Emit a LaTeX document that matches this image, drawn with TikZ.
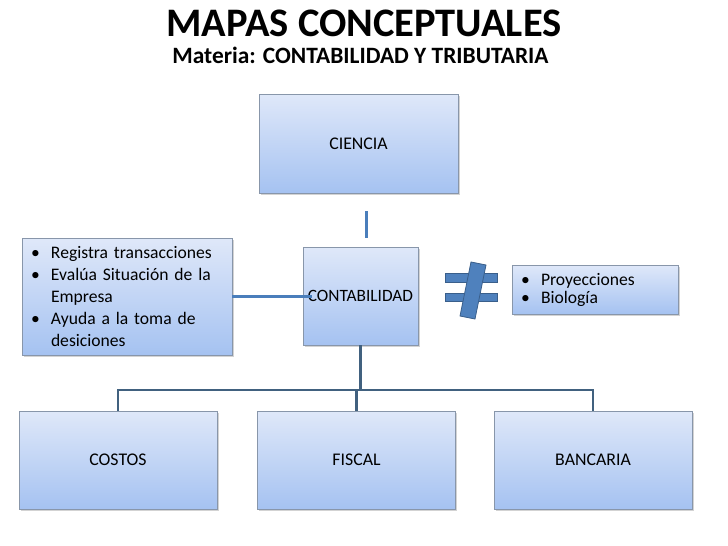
\documentclass[tikz,border=0pt]{standalone}
\usepackage{fontspec}
\setmainfont{Carlito}
\usetikzlibrary{shadows}
\definecolor{boxtop}{HTML}{DFE8F9}
\definecolor{boxbot}{HTML}{A5C2F1}
\definecolor{boxline}{HTML}{8896AA}
\definecolor{linkblue}{HTML}{4A7EBB}
\definecolor{treeline}{HTML}{41617F}
\definecolor{neqfill}{HTML}{4F81BD}
\definecolor{neqline}{HTML}{3A5F8B}
\newcommand{\vineta}{\makebox[20pt][l]{\textbullet}}
\begin{document}
\begin{tikzpicture}[x=1pt, y=-1pt,
  concept/.style={draw=boxline, line width=0.8pt, top color=boxtop, bottom color=boxbot,
    drop shadow={shadow xshift=1.5pt, shadow yshift=-1.5pt, opacity=0.35},
    font=\fontsize{17.8}{20}\selectfont, inner sep=0pt},
  link/.style={draw=linkblue, line width=3pt},
  tree/.style={draw=treeline, line width=2.5pt},
  neq/.style={fill=neqfill, draw=neqline, line width=0.8pt}]
  \useasboundingbox (0,0) rectangle (728,546);
  \node[font=\bfseries\fontsize{40.5}{44}\selectfont, anchor=base] (titulo) at (364,36) {MAPAS CONCEPTUALES};
  \node[font=\bfseries\fontsize{23.4}{26}\selectfont, anchor=base] (materia) at (360.5,63) {Materia: CONTABILIDAD Y TRIBUTARIA};
  \node[concept, minimum width=199pt, minimum height=99pt] (ciencia) at (358.5,143.5) {CIENCIA};
  \node[concept, minimum width=115pt, minimum height=98pt, font=\fontsize{17.3}{20}\selectfont] (contab) at (360.5,296) {CONTABILIDAD};
  \node[concept, text width=192pt, inner xsep=9pt, minimum height=117pt, align=left,
    font=\fontsize{17.6}{22}\selectfont] (funciones) at (127,296.5)
    {\vineta Registra transacciones\\ \vineta Evalúa Situación de la\\ \hspace*{20pt}Empresa\\
     \vineta Ayuda a la toma de\\ \hspace*{20pt}desiciones};
  \node[concept, text width=148pt, inner xsep=9pt, minimum height=49pt, align=left,
    font=\fontsize{17.6}{18}\selectfont] (otras) at (595,289.5)
    {\vineta Proyecciones\\ \vineta Biología};
  \node[concept, minimum width=198pt, minimum height=98pt] (costos) at (118,460) {COSTOS};
  \node[concept, minimum width=198pt, minimum height=98pt] (fiscal) at (356.5,460) {FISCAL};
  \node[concept, minimum width=198pt, minimum height=98pt] (bancaria) at (593,460) {BANCARIA};
  % distinto de
  \draw[neq] (445,273) rectangle (497,282);
  \draw[neq] (445,293) rectangle (497,301);
  \draw[neq] (471,262) -- (486,265) -- (475,319) -- (460,316) -- cycle;
  % conectores
  \draw[link, shorten <=18pt, shorten >=9pt] ([xshift=7.5pt]ciencia.south) -- ([xshift=5.5pt]contab.north);
  \draw[link, shorten >=-9pt] (funciones.east) -- (funciones.east -| contab.west);
  \coordinate (bus) at (360.5,390);
  \draw[tree] (contab.south) -- (bus);
  \draw[tree] (costos.north) |- (bus) -| (bancaria.north);
  \draw[tree] (fiscal.north) -- (fiscal.north |- bus);
\end{tikzpicture}
\end{document}
